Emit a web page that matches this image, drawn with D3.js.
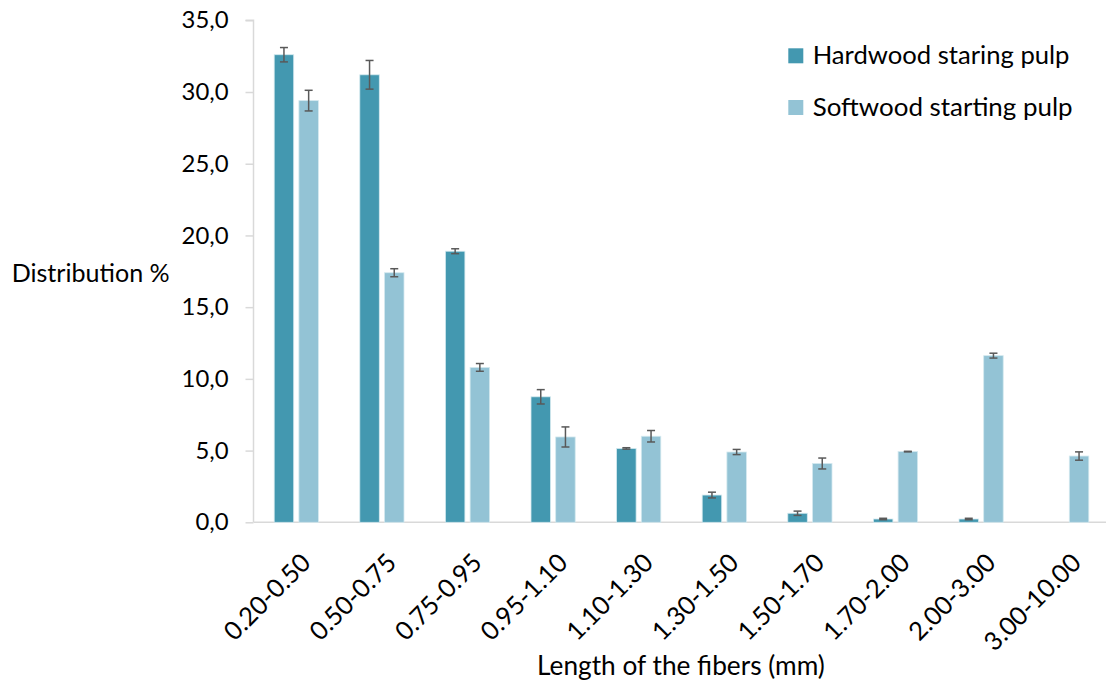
<!DOCTYPE html>
<html>
<head>
<meta charset="utf-8">
<script src="https://cdn.jsdelivr.net/npm/d3@7/dist/d3.min.js"></script>
<style>
  html, body { margin: 0; padding: 0; background: #ffffff; }
  svg { display: block; }
  text { font-family: Lato, "Open Sans", sans-serif; fill: #000000; }
</style>
</head>
<body>
<svg id="chart" width="1106" height="690"></svg>
<script>
// ---- data ----
const categories = ["0.20-0.50","0.50-0.75","0.75-0.95","0.95-1.10","1.10-1.30","1.30-1.50","1.50-1.70","1.70-2.00","2.00-3.00","3.00-10.00"];
const seriesNames = ["Hardwood staring pulp", "Softwood starting pulp"];
const hardwood    = [32.6, 31.2, 18.9, 8.75, 5.15, 1.9, 0.63, 0.23, 0.23, 0];
const hardwoodErr = [0.5, 1.0, 0.17, 0.5, 0.05, 0.2, 0.15, 0.05, 0.05, 0];
const softwood    = [29.4, 17.4, 10.8, 5.95, 6.0, 4.9, 4.1, 4.93, 11.62, 4.62];
const softwoodErr = [0.72, 0.28, 0.27, 0.7, 0.4, 0.18, 0.38, 0.02, 0.17, 0.29];
const yTicks = [0, 5, 10, 15, 20, 25, 30, 35];
const yTitle = "Distribution %";
const xTitle = "Length of the fibers (mm)";

// ---- layout ----
const colors = ["#4398B0", "#93C3D5"];
const plot = { left: 253.5, right: 1109.5, top: 20.3, bottom: 522.3 };
const barW = 19.5, barGap = 2.6;

const svg = d3.select("#chart");

const x = d3.scaleBand().domain(categories).range([plot.left, plot.right]).padding(0);
const y = d3.scaleLinear().domain([0, 35]).range([plot.bottom, plot.top]);

function fit(sel, target, base) {
  sel.style("font-size", base + "px");
  const w = sel.node().getComputedTextLength();
  const fs = base * target / w;
  sel.style("font-size", fs + "px");
  return fs;
}

// y axis
const yAxis = svg.append("g")
  .attr("transform", `translate(${plot.left},0)`)
  .call(d3.axisLeft(y).tickValues(yTicks).tickSize(8).tickPadding(17)
        .tickFormat(d => d3.format(".1f")(d).replace(".", ",")));
yAxis.select(".domain").attr("stroke", "#d9d9d9").attr("stroke-width", 1.5)
  .attr("d", `M-8,${plot.top}H0V${plot.bottom}`);
yAxis.selectAll(".tick line").attr("stroke", "#d9d9d9").attr("stroke-width", 1.5);
const yLab = yAxis.selectAll(".tick text").attr("fill", "#000").attr("font-family", null);
// size tick labels from the width of "35,0"
const topLab = yAxis.selectAll(".tick text").filter(d => d === 35);
const tickFs = fit(topLab, 47, 24);
yLab.style("font-size", tickFs + "px");

// x axis line
svg.append("line")
  .attr("x1", plot.left).attr("x2", plot.right)
  .attr("y1", plot.bottom).attr("y2", plot.bottom)
  .attr("stroke", "#d9d9d9").attr("stroke-width", 1.5);

// bars
const series = [
  { vals: hardwood, errs: hardwoodErr, off: -barGap - barW, color: colors[0] },
  { vals: softwood, errs: softwoodErr, off: barGap, color: colors[1] }
];
series.forEach(s => {
  const g = svg.append("g");
  categories.forEach((c, i) => {
    const v = s.vals[i];
    if (v <= 0) return;
    const cx = x(c) + x.bandwidth() / 2;
    g.append("rect")
      .attr("x", cx + s.off).attr("width", barW)
      .attr("y", y(v)).attr("height", y(0) - y(v))
      .attr("fill", s.color)
      .attr("stroke", "#d4e9ef").attr("stroke-width", 0.8);
  });
});
// error bars
series.forEach(s => {
  const g = svg.append("g").attr("stroke", "#595959").attr("stroke-width", 1.5).attr("fill", "none");
  categories.forEach((c, i) => {
    const v = s.vals[i], e = s.errs[i];
    if (v <= 0) return;
    const bx = x(c) + x.bandwidth() / 2 + s.off + barW / 2;
    const y1 = y(v + e), y2 = y(v - e);
    g.append("line").attr("x1", bx).attr("x2", bx).attr("y1", y1).attr("y2", y2);
    g.append("line").attr("x1", bx - 4).attr("x2", bx + 4).attr("y1", y1).attr("y2", y1);
    g.append("line").attr("x1", bx - 4).attr("x2", bx + 4).attr("y1", y2).attr("y2", y2);
  });
});

// x labels
const xl = svg.append("g").selectAll("text").data(categories).enter().append("text")
  .attr("text-anchor", "end")
  .attr("transform", d => `translate(${x(d) + x.bandwidth() / 2 + 16},${plot.bottom + 42}) rotate(-45)`)
  .text(d => d);
const firstX = xl.filter((d, i) => i === 0);
const xFs = fit(firstX, 110, 24);
xl.style("font-size", xFs + "px");

// titles
const yt = svg.append("text").attr("x", 11.7).attr("y", 281.7).text(yTitle);
fit(yt, 158, 24);
const xt = svg.append("text").attr("x", 537).attr("y", 675).text(xTitle);
fit(xt, 288, 24);

// legend
const legY = [48.3, 100];
seriesNames.forEach((n, i) => {
  svg.append("rect").attr("x", 788.3).attr("y", legY[i]).attr("width", 15).attr("height", 15)
    .attr("fill", colors[i]);
  const t = svg.append("text").attr("x", 812.7).attr("y", legY[i] + 15.5).text(n);
  fit(t, i === 0 ? 257 : 260, 24);
});
</script>
</body>
</html>
